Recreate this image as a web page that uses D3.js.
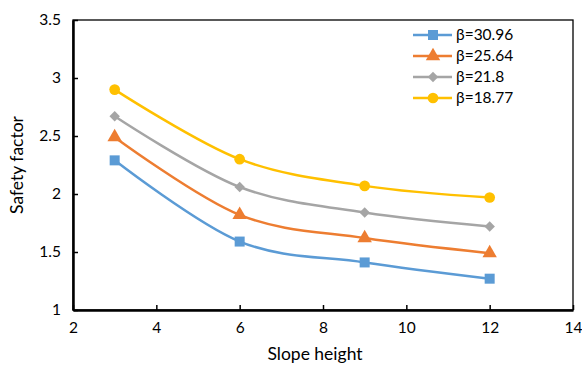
<!DOCTYPE html>
<html><head><meta charset="utf-8">
<script src="https://cdn.jsdelivr.net/npm/d3@7"></script>
<style>body{margin:0;background:#fff}</style>
</head><body>
<svg id="c" width="582" height="366"></svg>
<script>
const heights = [3, 6, 9, 12];
const seriesNames = ["β=30.96", "β=25.64", "β=21.8", "β=18.77"];
const s1 = [2.29, 1.59, 1.41, 1.27];
const s2 = [2.49, 1.82, 1.62, 1.49];
const s3 = [2.67, 2.06, 1.84, 1.72];
const s4 = [2.90, 2.30, 2.07, 1.97];
const colors = ["#5B9BD5", "#ED7D31", "#A5A5A5", "#FFC000"];
const symbols = [d3.symbolSquare, d3.symbolTriangle, d3.symbolSquare, d3.symbolCircle];
const symRot = [0, 0, 45, 0];
const symSizes = [100, 90, 55, 90];
const xTicks = [2, 4, 6, 8, 10, 12, 14];
const yTicks = [1, 1.5, 2, 2.5, 3, 3.5];
const yTickLabels = ["1", "1.5", "2", "2.5", "3", "3.5"];

const svg = d3.select("#c");
const font = "Lato, 'Open Sans', sans-serif";
const m = {l: 73, r: 573, t: 20, b: 310};
const x = d3.scaleLinear().domain([2, 14]).range([m.l, m.r]);
const y = d3.scaleLinear().domain([1, 3.5]).range([m.b, m.t]);

svg.append("rect").attr("x", m.l).attr("y", m.t).attr("width", m.r - m.l).attr("height", m.b - m.t)
  .attr("fill", "none").attr("stroke", "#000").attr("stroke-width", 1.3);

const xa = svg.append("g").attr("transform", `translate(0,${m.b})`)
  .call(d3.axisBottom(x).tickValues(xTicks).tickSizeInner(-5).tickSizeOuter(0).tickPadding(12));
const ya = svg.append("g").attr("transform", `translate(${m.l},0)`)
  .call(d3.axisLeft(y).tickValues(yTicks).tickFormat((d,i)=>yTickLabels[i]).tickSizeInner(-5).tickSizeOuter(0).tickPadding(12));
[xa, ya].forEach(a => {
  a.select(".domain").attr("stroke", "#000").attr("stroke-width", 2.5);
  a.selectAll(".tick line").attr("stroke", "#000").attr("stroke-width", 1.5);
  a.selectAll("text").attr("font-family", font).attr("font-size", 15.5).attr("fill", "#000");
});

svg.append("text").attr("x", (m.l + m.r) / 2 - 8).attr("y", 360).attr("text-anchor", "middle")
  .attr("font-family", font).attr("font-size", 17.5).text("Slope height");
svg.append("text").attr("transform", `translate(23,${(m.t + m.b) / 2}) rotate(-90)`).attr("text-anchor", "middle")
  .attr("font-family", font).attr("font-size", 17.5).text("Safety factor");

const data = [s1, s2, s3, s4];
const line = d3.line().x((d, i) => x(heights[i])).y(d => y(d)).curve(d3.curveCatmullRom.alpha(0));
data.forEach((s, k) => {
  svg.append("path").attr("d", line(s)).attr("fill", "none").attr("stroke", colors[k]).attr("stroke-width", 2.5);
  svg.selectAll(null).data(s).enter().append("path")
    .attr("transform", (d, i) => `translate(${x(heights[i])},${y(d)}) rotate(${symRot[k]})`)
    .attr("d", d3.symbol().type(symbols[k]).size(symSizes[k]))
    .attr("fill", colors[k]);
});

seriesNames.forEach((n, k) => {
  const ly = 35 + k * 21;
  const g = svg.append("g");
  g.append("line").attr("x1", 413).attr("x2", 452).attr("y1", ly).attr("y2", ly)
    .attr("stroke", colors[k]).attr("stroke-width", 2.5);
  g.append("path").attr("transform", `translate(433,${ly}) rotate(${symRot[k]})`)
    .attr("d", d3.symbol().type(symbols[k]).size(symSizes[k])).attr("fill", colors[k]);
  g.append("text").attr("x", 456).attr("y", ly + 5).attr("font-family", font).attr("font-size", 15.5).text(n);
});
</script>
</body></html>
